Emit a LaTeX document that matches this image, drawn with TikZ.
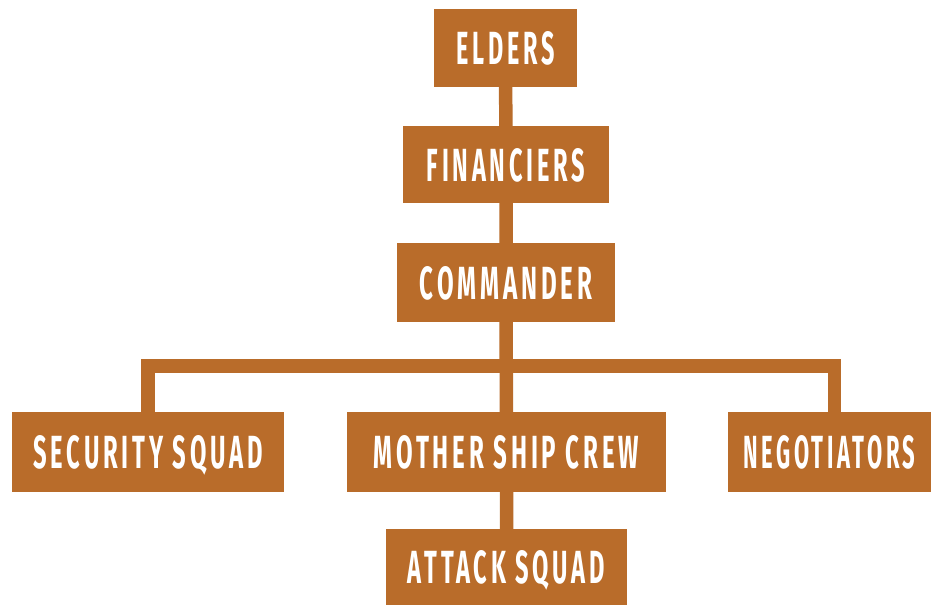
\documentclass[tikz,border=0pt]{standalone}
\usepackage{graphicx}
\usepackage{fontspec}
\usetikzlibrary{backgrounds}
\newfontfamily\boxfont[FakeStretch=0.5,LetterSpace=8]{Fira Sans}
\definecolor{rust}{HTML}{B96C2A}
% label set in a condensed face, fitted to a given width and cap height (no depth)
\newcommand{\boxlabel}[2]{\raisebox{0pt}[33pt][0pt]{\resizebox{#1pt}{33pt}{\boxfont\bfseries #2}}}
\tikzset{
  orgbox/.style={fill=rust, inner sep=0pt, text=white, minimum height=79pt},
  link/.style={draw=rust, line width=13.5pt, line join=miter}
}
\begin{document}
\begin{tikzpicture}[x=1pt,y=-1pt]
\useasboundingbox (0,0) rectangle (931,605);
\node[orgbox, minimum width=143pt, minimum height=78pt] (elders) at (505.5,48) {\boxlabel{98}{ELDERS}};
\node[orgbox, minimum width=206pt, minimum height=77pt] (fin) at (506,164.5) {\boxlabel{158}{FINANCIERS}};
\node[orgbox, minimum width=218pt] (cmd) at (506,282.5) {\boxlabel{172}{COMMANDER}};
\node[orgbox, minimum width=272pt, minimum height=80pt] (sec) at (148,452) {\boxlabel{229}{SECURITY SQUAD}};
\node[orgbox, minimum width=319pt, minimum height=80pt] (msc) at (506.5,452) {\boxlabel{265}{MOTHER SHIP CREW}};
\node[orgbox, minimum width=203pt, minimum height=80pt] (neg) at (829.5,452) {\boxlabel{172}{NEGOTIATORS}};
\node[orgbox, minimum width=241pt, minimum height=76pt] (atk) at (506.5,567) {\boxlabel{197}{ATTACK SQUAD}};
\coordinate (bar) at (506,366);
\begin{scope}[on background layer]
  \draw[link] (elders) -- (fin) -- (cmd) -- (msc) -- (atk);
  \draw[link] (sec.north) |- (bar) -| ([xshift=5pt]neg.north);
\end{scope}
\end{tikzpicture}
\end{document}
